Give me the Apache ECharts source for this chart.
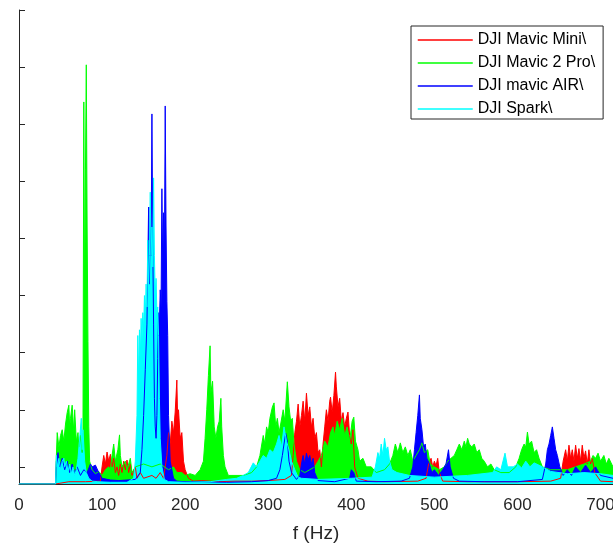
<!DOCTYPE html>
<html>
<head>
<meta charset="utf-8">
<script src="https://cdn.jsdelivr.net/npm/echarts@6/dist/echarts.min.js"></script>
<style>
  html, body { margin: 0; padding: 0; background: #fff; }
  #chart { width: 613px; height: 544px; }
</style>
</head>
<body>
<div id="chart"></div>
<script>
// spectra: [f (Hz), amplitude]
const names = ['DJI Mavic Mini\\', 'DJI Mavic 2 Pro\\', 'DJI mavic AIR\\', 'DJI Spark\\'];
const colors = ['#ff0000', '#00ff00', '#0000ff', '#00ffff'];
const xTicks = [0, 100, 200, 300, 400, 500, 600, 700];
const yTicks = [0.3, 1.3, 2.3, 3.3, 4.3, 5.3, 6.3, 7.3, 8.3];

const mini = [[0,0],[44,0],[46,0.03],[60,0.04],[80,0.04],[98,0.05],
  [100,0.3],[102,0.5],[104,0.35],[106,0.56],[108,0.4],[110,0.52],[112,0.3],[114,0.45],[116,0.2],[118,0.3],
  [120,0.15],[122,0.35],[124,0.2],[126,0.4],[128,0.25],[130,0.42],[132,0.2],[134,0.35],[136,0.15],[140,0.3],
  [142,0.1],[146,0.2],[150,0.1],[160,0.15],[165,0.1],[170,0.2],[174,0.1],[178,0.5],[180,0.9],[182,0.7],
  [184,1.1],[186,0.9],[188,1.26],[190,1.82],[191,1.1],[192,1.3],[194,0.8],[196,0.9],[198,0.4],[200,0.25],
  [204,0.1],[210,0.05],[220,0.06],[240,0.04],[260,0.05],[280,0.05],[300,0.06],[320,0.08],[328,0.15],[330,0.5],
  [332,0.9],[334,1.1],[336,1.4],[338,1.0],[340,1.2],[342,1.45],[344,1.1],[346,1.59],[348,1.2],[350,1.35],
  [352,1.0],[354,1.15],[356,0.8],[358,0.9],[360,0.55],[362,0.6],[364,0.3],[366,0.7],[368,1.0],[370,1.3],
  [372,1.1],[374,1.45],[375,1.52],[377,1.25],[379,1.55],[381,1.96],[382,1.7],[384,1.35],[386,1.5],[388,1.1],
  [390,1.25],[392,1.0],[394,1.15],[396,1.26],[398,0.85],[400,0.7],[402,0.95],[404,0.3],[408,0.1],[420,0.05],
  [440,0.04],[480,0.05],[490,0.1],[493,0.35],[496,0.45],[498,0.3],[500,0.4],[502,0.32],[504,0.45],[506,0.2],
  [510,0.05],[540,0.04],[600,0.04],[640,0.05],[652,0.1],[655,0.4],[658,0.6],[660,0.4],[662,0.68],[664,0.45],
  [666,0.6],[668,0.4],[670,0.68],[672,0.45],[674,0.62],[676,0.4],[678,0.68],[680,0.45],[682,0.58],[684,0.35],
  [686,0.6],[688,0.35],[690,0.45],[693,0.2],[700,0.05],[715,0.04]];

const pro2 = [[0,0],[44,0],[45,0.5],[46,0.9],[48,0.65],[50,0.85],[52,0.95],[54,0.75],[56,1.05],[58,1.25],
  [60,1.38],[61,1.0],[62,1.15],[64,1.38],[66,0.9],[67,1.3],[69,0.75],[71,0.9],[72,0.65],[74,0.85],[76,0.55],
  [77,0.9],[78,6.69],[79,3.0],[80,5.5],[81,7.34],[82,4.5],[83,2.5],[84,1.0],[85,0.4],[88,0.25],[92,0.18],
  [96,0.22],[100,0.15],[104,0.25],[108,0.3],[110,0.25],[112,0.5],[114,0.7],[116,0.4],[119,0.6],[121,0.86],
  [122,0.5],[124,0.3],[128,0.4],[130,0.25],[134,0.45],[136,0.2],[140,0.3],[150,0.35],[160,0.3],[170,0.35],
  [180,0.25],[186,0.3],[190,0.2],[196,0.2],[200,0.15],[206,0.18],[212,0.15],[218,0.25],[222,0.4],[224,0.8],
  [226,1.3],[228,1.9],[230,2.42],[231,1.6],[233,1.8],[235,1.0],[237,0.8],[239,1.0],[241,1.1],[243,1.5],
  [244,1.0],[246,0.5],[248,0.3],[252,0.15],[260,0.15],[270,0.15],[280,0.2],[286,0.3],[290,0.5],[294,0.85],
  [296,0.7],[298,1.0],[300,0.9],[302,1.15],[305,1.35],[307,1.42],[309,1.0],[311,1.15],[313,0.9],[315,1.05],
  [318,1.3],[320,1.1],[323,1.79],[325,1.35],[327,1.1],[329,1.15],[331,0.7],[334,0.4],[338,0.25],[344,0.2],
  [350,0.25],[356,0.3],[360,0.4],[364,0.5],[368,0.75],[372,0.65],[375,0.9],[378,1.0],[380,0.85],[383,1.1],
  [386,0.95],[389,1.15],[392,0.85],[395,1.0],[398,0.75],[401,1.1],[403,1.17],[405,0.75],[408,0.6],[410,0.4],
  [414,0.45],[418,0.3],[424,0.3],[430,0.2],[440,0.25],[446,0.35],[450,0.5],[453,0.7],[456,0.55],[459,0.72],
  [462,0.55],[465,0.65],[468,0.5],[471,0.6],[474,0.4],[478,0.5],[482,0.6],[485,0.72],[488,0.55],[492,0.6],
  [495,0.35],[500,0.3],[506,0.25],[512,0.3],[516,0.4],[520,0.45],[524,0.5],[527,0.6],[530,0.7],[533,0.6],
  [536,0.75],[538,0.65],[540,0.8],[542,0.7],[545,0.65],[548,0.7],[551,0.55],[554,0.6],[557,0.45],[560,0.4],
  [564,0.3],[568,0.35],[572,0.25],[580,0.2],[590,0.2],[598,0.3],[602,0.45],[605,0.6],[608,0.7],[610,0.65],
  [612,0.91],[614,0.7],[617,0.75],[620,0.55],[623,0.6],[626,0.45],[630,0.3],[640,0.25],[650,0.25],[660,0.25],
  [670,0.3],[680,0.35],[688,0.4],[691,0.5],[694,0.45],[697,0.54],[700,0.4],[704,0.5],[707,0.35],[710,0.45],
  [715,0.3]];

const air = [[0,0],[44,0],[45,0.4],[47,0.55],[49,0.3],[52,0.45],[55,0.25],[58,0.4],[61,0.2],[64,0.35],
  [67,0.2],[70,0.3],[74,0.15],[78,0.25],[82,0.2],[86,0.35],[88,0.3],[92,0.33],[96,0.2],[100,0.1],[110,0.07],
  [120,0.06],[130,0.07],[140,0.08],[146,0.2],[148,0.6],[150,1.2],[152,2.0],[154,2.8],[156,4.85],[157,3.5],
  [158,4.85],[159,4.0],[160,6.48],[161,4.2],[162,2.8],[163,1.5],[164,1.0],[165,0.8],[166,1.2],[167,2.2],
  [168,3.0],[169,2.8],[170,3.4],[171,3.1],[172,5.17],[173,3.8],[174,4.75],[175,3.8],[176,6.62],[177,4.5],
  [178,3.2],[179,2.6],[180,1.2],[182,0.4],[186,0.1],[190,0.05],[200,0.04],[220,0.04],[250,0.03],[280,0.04],
  [300,0.06],[310,0.1],[314,0.25],[317,0.5],[319,0.7],[321,0.89],[323,0.75],[325,0.4],[328,0.2],[334,0.08],
  [338,0.15],[340,0.35],[342,0.5],[344,0.35],[346,0.54],[348,0.42],[350,0.5],[352,0.35],[354,0.45],[356,0.2],
  [360,0.06],[380,0.04],[398,0.1],[400,0.25],[403,0.2],[406,0.05],[430,0.04],[460,0.05],[470,0.1],[474,0.3],
  [476,0.6],[478,0.9],[480,1.2],[482,1.56],[483,1.15],[485,0.95],[487,0.65],[489,0.7],[491,0.45],[494,0.35],
  [497,0.2],[500,0.25],[505,0.15],[510,0.25],[514,0.35],[517,0.6],[519,0.3],[523,0.1],[530,0.05],[560,0.04],
  [600,0.04],[630,0.08],[634,0.35],[636,0.6],[638,0.7],[640,0.85],[642,1.0],[644,0.8],[646,0.6],[648,0.5],
  [651,0.3],[655,0.15],[660,0.25],[665,0.15],[670,0.3],[676,0.2],[682,0.33],[688,0.2],[694,0.3],[700,0.15],
  [715,0.1]];

const spark = [[0,0],[44,0],[45,0.5],[46,0.3],[48,0.45],[50,0.25],[52,0.4],[54,0.45],[55,0.3],[57,0.4],
  [59,0.22],[61,0.35],[63,0.18],[65,0.3],[67,0.15],[69,0.25],[71,0.45],[73,0.8],[75,1.15],[76,0.6],[77,0.95],
  [79,0.4],[81,0.2],[84,0.1],[88,0.05],[95,0.04],[110,0.03],[130,0.03],[138,0.1],[140,0.4],[142,1.2],
  [143,2.6],[144,1.8],[145,2.7],[146,2.2],[147,2.9],[148,2.5],[149,3.0],[150,2.7],[151,3.3],[152,2.9],
  [153,3.5],[154,3.1],[155,4.27],[156,3.4],[157,4.0],[158,5.11],[159,4.0],[160,4.5],[161,3.8],[162,5.36],
  [163,4.0],[164,3.3],[165,3.6],[166,3.0],[167,3.1],[168,2.6],[169,1.5],[170,0.8],[172,0.3],[175,0.08],
  [180,0.04],[200,0.03],[230,0.04],[250,0.08],[262,0.1],[270,0.15],[276,0.2],[282,0.37],[286,0.3],[290,0.4],
  [294,0.5],[298,0.45],[302,0.6],[306,0.55],[310,0.7],[313,0.85],[316,0.65],[319,1.0],[322,0.75],[325,0.6],
  [328,0.4],[332,0.25],[336,0.12],[340,0.1],[360,0.08],[400,0.1],[425,0.12],[429,0.3],[432,0.55],[434,0.45],
  [436,0.7],[438,0.5],[440,0.8],[442,0.6],[444,0.65],[446,0.4],[449,0.25],[455,0.2],[470,0.15],[500,0.12],
  [540,0.15],[570,0.2],[575,0.3],[580,0.25],[585,0.54],[588,0.3],[595,0.3],[600,0.35],[605,0.28],[610,0.4],
  [615,0.3],[620,0.37],[630,0.3],[640,0.22],[660,0.18],[680,0.2],[700,0.18],[715,0.15]];

const spectra = [mini, pro2, air, spark];

const chart = echarts.init(document.getElementById('chart'));

const axisColor = '#262626';
const font = '"Liberation Sans", Arial, Helvetica, sans-serif';

const option = {
    animation: false,
    textStyle: { fontFamily: font },
    grid: { left: 19, right: 0, top: 10, bottom: 60, outerBoundsMode: 'none' },
    legend: {
        orient: 'vertical',
        left: 411,
        top: 26,
        itemWidth: 55,
        itemHeight: 14,
        itemGap: 7,
        padding: [6, 8, 2, 6],
        borderColor: axisColor,
        borderWidth: 1,
        backgroundColor: '#fff',
        itemStyle: { opacity: 0 },
        lineStyle: { width: 1.5 },
        textStyle: { fontSize: 16, color: '#000', fontFamily: font },
        data: names
    },
    xAxis: {
        type: 'value',
        min: 0,
        max: 715,
        interval: 100,
        name: 'f (Hz)',
        nameLocation: 'middle',
        nameGap: 40,
        nameTextStyle: { fontSize: 19, color: axisColor, fontFamily: font, verticalAlign: 'top' },
        axisLine: { lineStyle: { color: axisColor } },
        axisTick: { inside: true, length: 6, customValues: xTicks, lineStyle: { color: axisColor } },
        axisLabel: { fontSize: 17, color: axisColor, margin: 13, customValues: xTicks },
        splitLine: { show: false }
    },
    yAxis: {
        type: 'value',
        min: 0,
        max: 8.3,
        axisLine: { show: true, lineStyle: { color: axisColor } },
        axisTick: { show: true, inside: true, length: 6, customValues: yTicks,
                    lineStyle: { color: axisColor } },
        axisLabel: { show: false },
        splitLine: { show: false }
    },
    series: spectra.map((d, i) => ({
        name: names[i],
        type: 'line',
        data: d,
        symbol: 'none',
        showSymbol: false,
        color: colors[i],
        lineStyle: { width: 1, color: colors[i] },
        areaStyle: { color: colors[i], opacity: 1 }
    }))
};

chart.setOption(option);
</script>
</body>
</html>
